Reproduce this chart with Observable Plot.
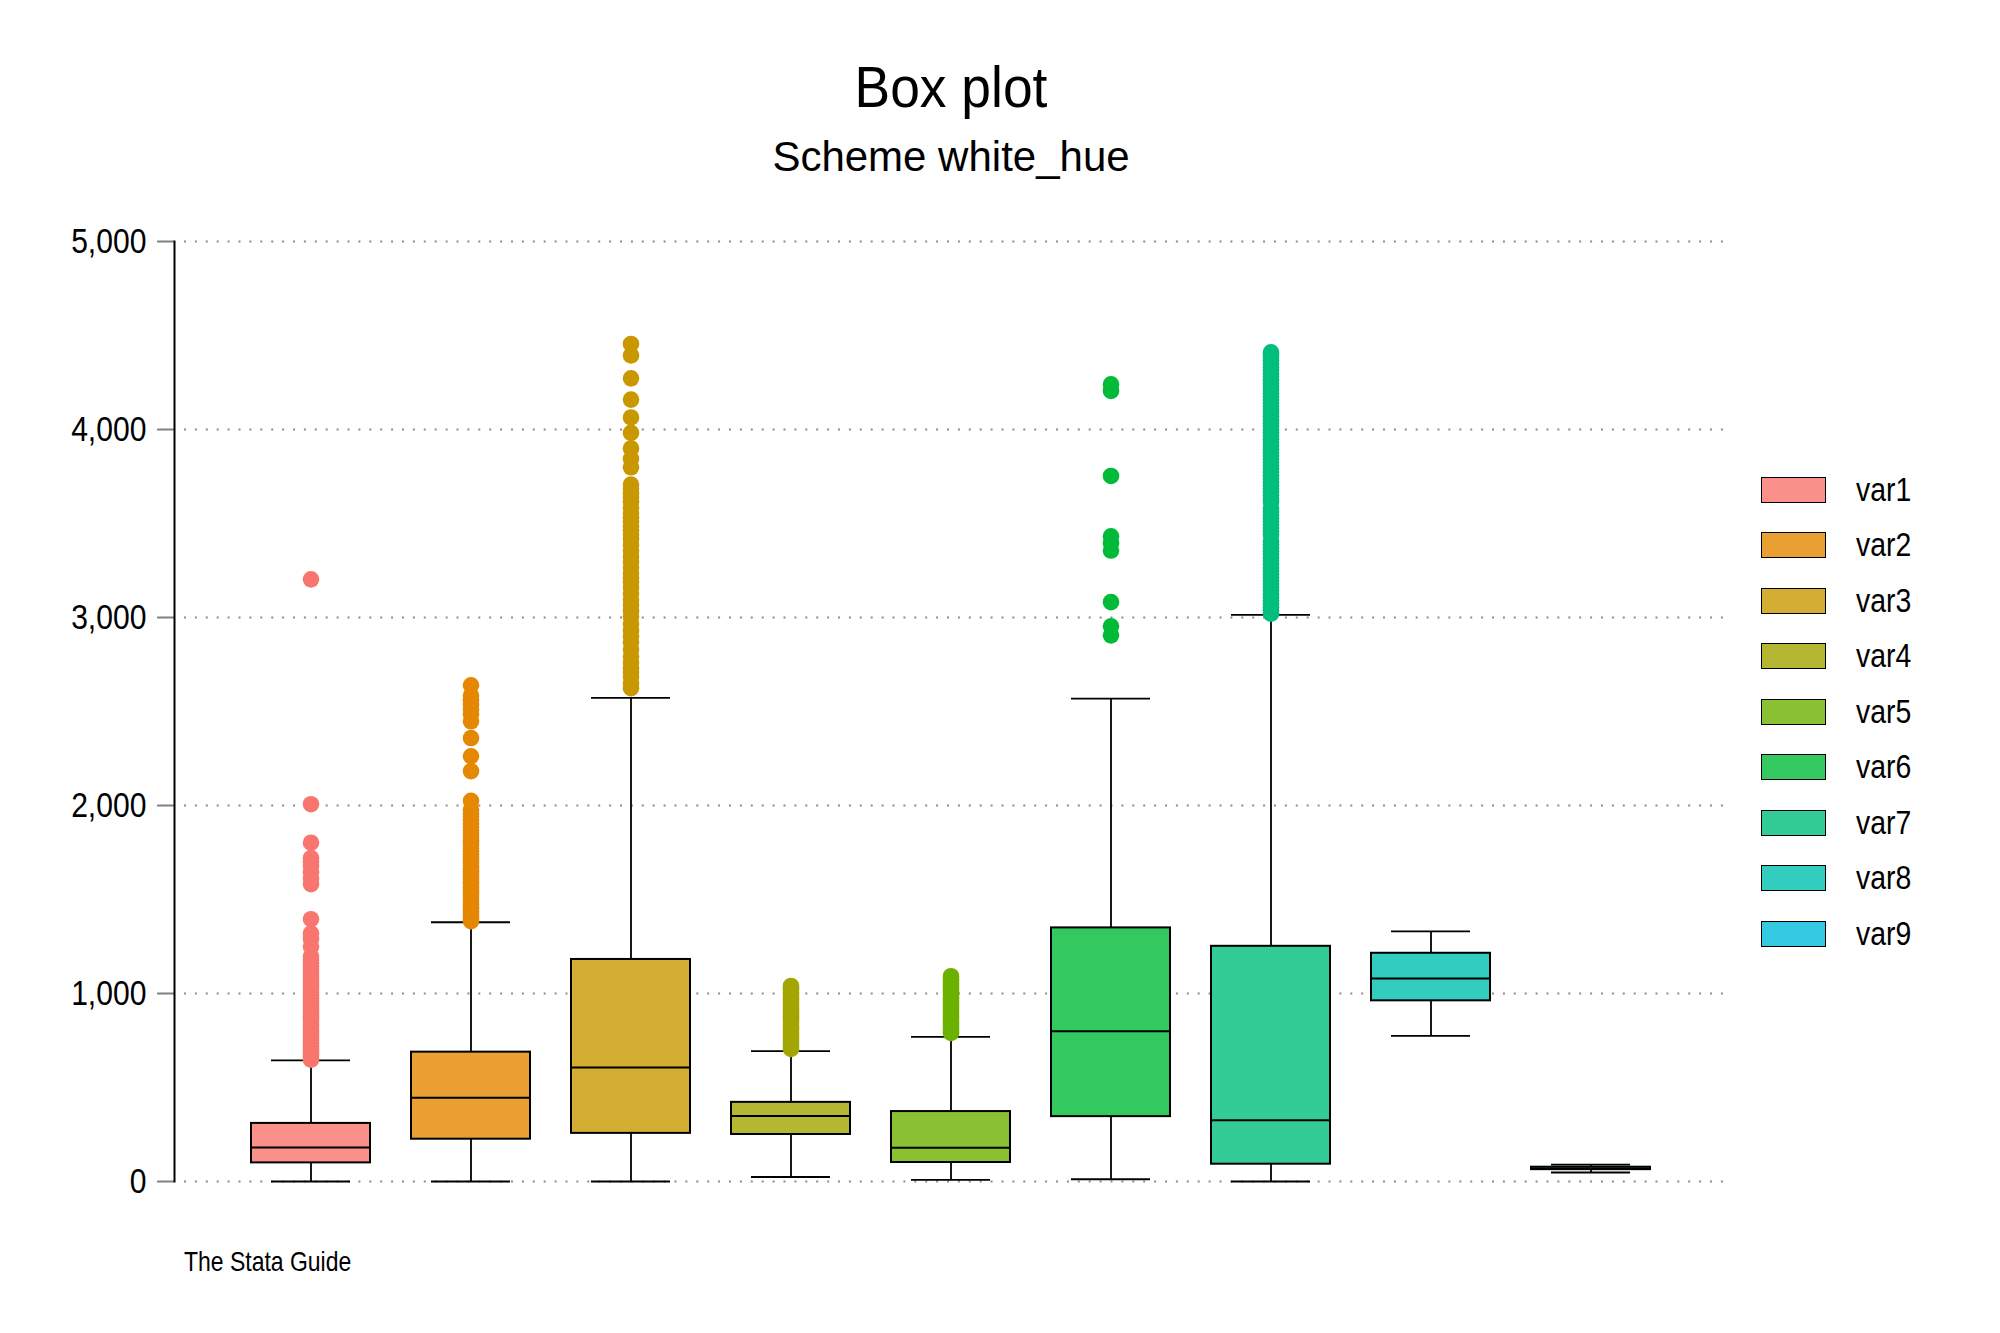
<!DOCTYPE html>
<html>
<head>
<meta charset="utf-8">
<script src="https://cdn.jsdelivr.net/npm/d3@7"></script>
<script src="https://cdn.jsdelivr.net/npm/@observablehq/plot@0.6"></script>
<style>
  html, body { margin: 0; padding: 0; background: #fff; }
  #page { position: relative; width: 2000px; height: 1333px; overflow: hidden; background: #fff; }
  #header { position: relative; width: 2000px; height: 200px; }
  .title { position: absolute; left: 0; width: 1902px; text-align: center; font-family: "Liberation Sans", Arial, sans-serif; color: #000; line-height: 1; white-space: nowrap; }
  #t1 { top: 58px; font-size: 58px; transform: scaleX(0.92); transform-origin: 951px 50%; }
  #t2 { top: 136px; font-size: 42px; }
  #chart { position: relative; height: 1040px; }
  #caption { position: absolute; left: 184px; top: 1248px; font-family: "Liberation Sans", Arial, sans-serif; font-size: 28px; line-height: 1; color: #000; transform: scaleX(0.82); transform-origin: 0 50%; white-space: nowrap; }
  #legend { position: absolute; left: 1761px; top: 476px; }
  .row { display: flex; align-items: center; height: 27px; margin-bottom: 28.5px; }
  .sw { width: 63px; height: 24px; border: 1.5px solid #000; box-sizing: content-box; flex: none; }
  .lab { display: inline-block; margin-left: 30px; font-family: "Liberation Sans", Arial, sans-serif; font-size: 33px; color: #000; white-space: nowrap; transform: scaleX(0.86); transform-origin: 0 50%; }
</style>
</head>
<body>
<div id="page">
  <div id="header">
    <div class="title" id="t1">Box plot</div>
    <div class="title" id="t2">Scheme white_hue</div>
  </div>
  <div id="chart"></div>
  <div id="caption">The Stata Guide</div>
  <div id="legend"></div>
</div>
<script>
// ---- data ----
const categories = ["var1", "var2", "var3", "var4", "var5", "var6", "var7", "var8", "var9"];
const lowerWhisker = [0, 0, 0, 24, 9, 12, 0, 775, 48];
const q1 = [99, 225, 256, 250, 101, 345, 92, 961, 63];
const median = [181, 446, 607, 348, 180, 799, 326, 1080, 69];
const q3 = [309, 688, 1181, 421, 372, 1349, 1251, 1214, 76];
const upperWhisker = [644, 1379, 2572, 693, 769, 2569, 3014, 1330, 90];

const outliersVar1 = [648, 660, 672, 684, 696, 708, 720, 735, 748, 760, 775, 790, 803, 818, 832, 845, 860, 874, 888, 902, 918, 932, 947, 960, 975, 990, 1005, 1020, 1035, 1050, 1066, 1080, 1095, 1110, 1128, 1145, 1162, 1180, 1198, 1250, 1290, 1320, 1395, 1582, 1610, 1645, 1680, 1700, 1720, 1802, 2007, 3203];
const outliersVar2 = [1385, 1398, 1410, 1422, 1435, 1450, 1462, 1475, 1490, 1505, 1520, 1535, 1548, 1562, 1578, 1592, 1606, 1620, 1636, 1650, 1665, 1680, 1695, 1710, 1725, 1740, 1756, 1770, 1786, 1800, 1815, 1832, 1850, 1868, 1885, 1902, 1920, 1940, 1958, 1978, 2025, 2183, 2262, 2359, 2448, 2485, 2510, 2535, 2560, 2584, 2639];
const outliersVar3 = [2624, 2650, 2685, 2710, 2731, 2760, 2792, 2830, 2868, 2900, 2929, 2965, 3005, 3035, 3066, 3095, 3127, 3160, 3188, 3210, 3234, 3265, 3295, 3325, 3356, 3385, 3417, 3440, 3463, 3485, 3509, 3530, 3554, 3585, 3615, 3640, 3661, 3685, 3707, 3799, 3844, 3899, 3982, 4064, 4159, 4272, 4394, 4455];
const outliersVar4 = [705, 718, 730, 742, 755, 768, 780, 793, 806, 818, 830, 843, 856, 868, 880, 893, 906, 918, 930, 943, 956, 968, 980, 993, 1005, 1018, 1030, 1040];
const outliersVar5 = [790, 803, 815, 828, 840, 853, 866, 878, 890, 903, 916, 928, 940, 953, 966, 978, 990, 1003, 1016, 1028, 1040, 1053, 1066, 1078, 1092];
const outliersVar6 = [2905, 2953, 3082, 3356, 3395, 3432, 3753, 4205, 4240];
const outliersVar7 = [3020, 3038, 3055, 3072, 3090, 3108, 3125, 3142, 3160, 3178, 3195, 3212, 3230, 3248, 3265, 3282, 3300, 3318, 3335, 3352, 3370, 3388, 3405, 3440, 3458, 3475, 3492, 3510, 3528, 3545, 3562, 3580, 3615, 3632, 3650, 3668, 3685, 3702, 3720, 3738, 3755, 3772, 3790, 3808, 3825, 3842, 3860, 3878, 3895, 3912, 3930, 3948, 3965, 3982, 4000, 4018, 4035, 4052, 4070, 4088, 4105, 4122, 4140, 4158, 4175, 4192, 4210, 4228, 4245, 4262, 4280, 4298, 4315, 4332, 4350, 4368, 4385, 4400, 4410];
const outliersVar8 = [];
const outliersVar9 = [];

const boxFills = ["#F9918A", "#EA9F33", "#D4AD33", "#B5B733", "#89C133", "#33C860", "#33CC97", "#33CDBF", "#33C9E0"];
const markerColors = ["#F8766D", "#E58700", "#C99800", "#A3A500", "#6BB100", "#00BA38", "#00BF7D", "#00C0AF", "#00BCD8"];
const yTicks = [0, 1000, 2000, 3000, 4000, 5000];

// ---- tables built from the arrays ----
const boxes = categories.map((c, i) => ({
  name: c, lw: lowerWhisker[i], q1: q1[i], med: median[i], q3: q3[i], uw: upperWhisker[i], fill: boxFills[i]
}));
const outlierLists = [outliersVar1, outliersVar2, outliersVar3, outliersVar4, outliersVar5, outliersVar6, outliersVar7, outliersVar8, outliersVar9];
const outliers = outlierLists.flatMap((list, i) => list.map(v => ({name: categories[i], value: v, color: markerColors[i]})));

const font = '"Liberation Sans", Arial, sans-serif';
const mLeft = 174, tickSize = 17, tickPad = 11;

const chart = Plot.plot({
  width: 2000,
  height: 1040,
  marginTop: 41,
  marginBottom: 59,
  marginLeft: mLeft,
  marginRight: 273,
  style: {background: "white", fontFamily: font, overflow: "visible"},
  x: {domain: categories, paddingInner: 0.254, paddingOuter: 0.453, axis: null},
  y: {domain: [0, 5000], axis: null},
  marks: [
    Plot.ruleY(yTicks, {y: d => d, stroke: "#8c8c8c", strokeWidth: 2, strokeDasharray: "2,8.9", insetLeft: 10}),
    Plot.axisY(yTicks, {anchor: "left", label: null, tickSize: tickSize, tickPadding: tickPad, stroke: "#808080", strokeWidth: 2,
      tickFormat: d3.format(","), fontSize: 35, fill: "#000", fontFamily: font}),
    Plot.frame({anchor: "left", stroke: "#000", strokeWidth: 2}),
    // whiskers
    Plot.ruleX(boxes, {x: "name", y1: "q3", y2: "uw", stroke: "#000", strokeWidth: 1.8}),
    Plot.ruleX(boxes, {x: "name", y1: "lw", y2: "q1", stroke: "#000", strokeWidth: 1.8}),
    Plot.tickY(boxes, {x: "name", y: "uw", stroke: "#000", strokeWidth: 1.8, insetLeft: 20, insetRight: 20}),
    Plot.tickY(boxes, {x: "name", y: "lw", stroke: "#000", strokeWidth: 1.8, insetLeft: 20, insetRight: 20}),
    // boxes
    Plot.barY(boxes, {x: "name", y1: "q1", y2: "q3", fill: "fill", stroke: "#000", strokeWidth: 2}),
    Plot.tickY(boxes, {x: "name", y: "med", stroke: "#000", strokeWidth: 2}),
    // outliers
    Plot.dot(outliers, {x: "name", y: "value", r: 8.3, fill: "color", stroke: "none"})
  ]
});
document.getElementById("chart").appendChild(chart);

// condense the y tick labels horizontally around their right-aligned anchor
const labelX = mLeft - tickSize - tickPad;
chart.querySelectorAll('g[aria-label="y-axis tick label"]').forEach(g => {
  const prev = g.getAttribute("transform") || "";
  g.setAttribute("transform", `translate(${labelX},0) scale(0.86,1) translate(${-labelX},0) ${prev}`);
});

// legend
const legend = document.getElementById("legend");
categories.forEach((c, i) => {
  const row = document.createElement("div");
  row.className = "row";
  const sw = document.createElement("div");
  sw.className = "sw";
  sw.style.background = boxFills[i];
  const lab = document.createElement("span");
  lab.className = "lab";
  lab.textContent = c;
  row.appendChild(sw);
  row.appendChild(lab);
  legend.appendChild(row);
});
</script>
</body>
</html>
